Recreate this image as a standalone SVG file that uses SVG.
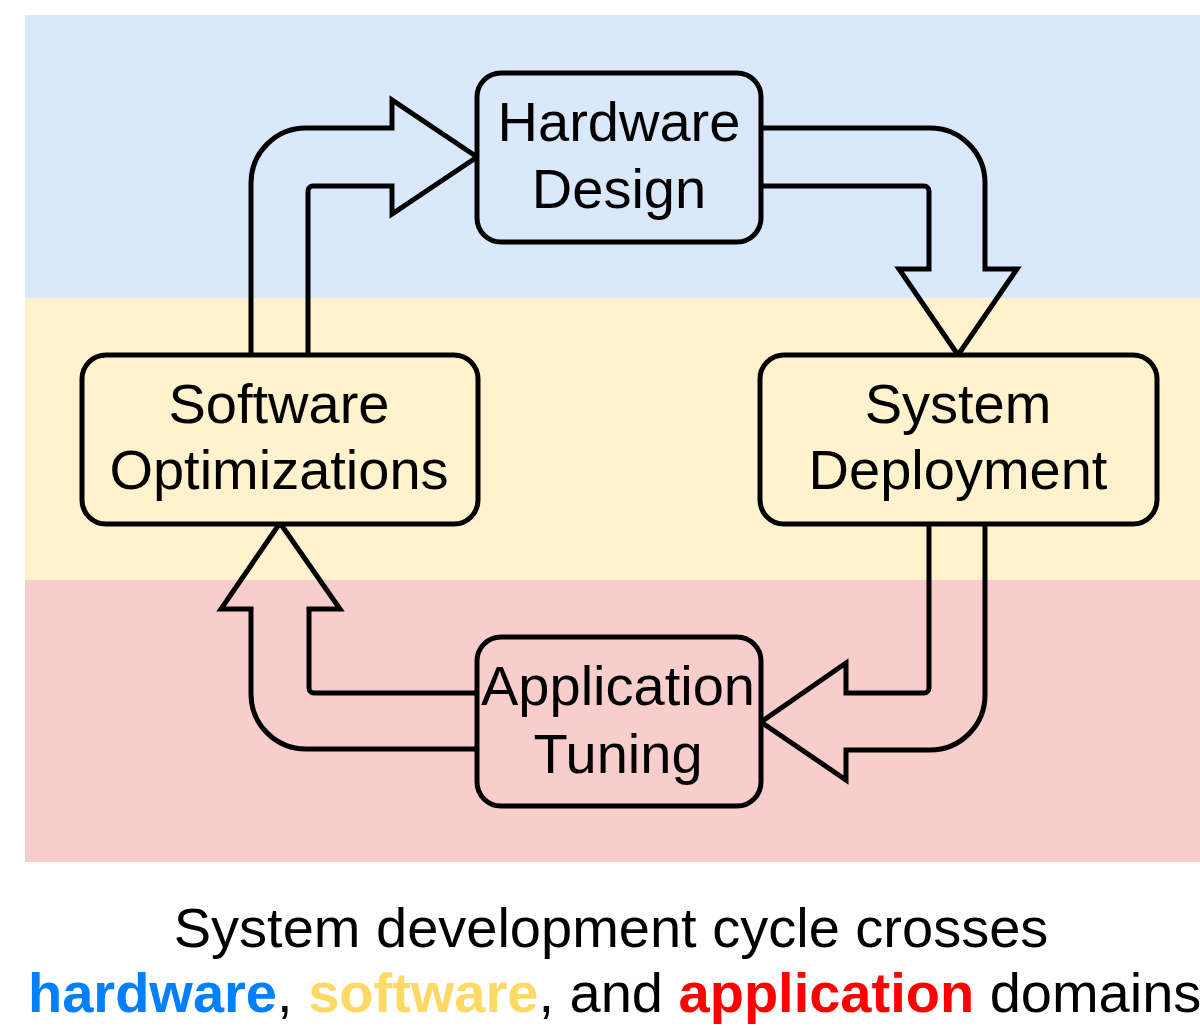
<svg xmlns="http://www.w3.org/2000/svg" width="1200" height="1028" viewBox="0 0 1200 1028">
  <style>
    .label { font-family: "Liberation Sans", Arial, Helvetica, sans-serif; font-size: 56px; fill: #000; text-anchor: middle; }
    .box { stroke: #000; stroke-width: 5; }
    .flex { fill: none; stroke: #000; stroke-width: 5; stroke-linejoin: miter; stroke-miterlimit: 10; }
    .caption { font-family: "Liberation Sans", Arial, Helvetica, sans-serif; font-size: 56px; fill: #000; }
    .b { font-weight: bold; }
  </style>

  <rect width="1200" height="1028" fill="#ffffff"/>

  <!-- domain bands -->
  <g id="bands">
    <rect x="25" y="15" width="1175" height="283" fill="#dae8fc"/>
    <rect x="25" y="298" width="1175" height="282" fill="#fff2cc"/>
    <rect x="25" y="580" width="1175" height="282" fill="#f8cecc"/>
  </g>

  <!-- wide flex arrows between the stages -->
  <g id="connectors">
    <!-- Software Optimizations -> Hardware Design -->
    <path class="flex" d="M251,354 L251,183 A55,55 0 0 1 306,128 L392,128 L392,100 L477,157 L392,214 L392,186 L313,186 A5,5 0 0 0 308,191 L308,354"/>
    <!-- Hardware Design -> System Deployment -->
    <path class="flex" d="M761,128 L930,128 A55,55 0 0 1 985,183 L985,269 L1017,269 L958,355 L899,269 L929,269 L929,191 A5,5 0 0 0 924,186 L761,186"/>
    <!-- System Deployment -> Application Tuning -->
    <path class="flex" d="M985,524 L985,695 A55,55 0 0 1 930,750 L846,750 L846,780 L761,722 L846,663 L846,693 L924,693 A5,5 0 0 0 929,688 L929,524"/>
    <!-- Application Tuning -> Software Optimizations -->
    <path class="flex" d="M477,749 L306,749 A55,55 0 0 1 251,694 L251,609 L221,609 L280,523 L340,609 L309,609 L309,688 A5,5 0 0 0 314,693 L477,693"/>
  </g>

  <!-- stages -->
  <g id="hardware-design">
    <rect class="box" x="477" y="73" width="284" height="169" rx="24" fill="#dae8fc"/>
    <text class="label" x="619" y="141">Hardware</text>
    <text class="label" x="619" y="208">Design</text>
  </g>
  <g id="software-optimizations">
    <rect class="box" x="82" y="355" width="396" height="169" rx="24" fill="#fff2cc"/>
    <text class="label" x="279" y="423">Software</text>
    <text class="label" x="279" y="489">Optimizations</text>
  </g>
  <g id="system-deployment">
    <rect class="box" x="760" y="355" width="397" height="169" rx="24" fill="#fff2cc"/>
    <text class="label" x="958" y="423">System</text>
    <text class="label" x="958" y="489">Deployment</text>
  </g>
  <g id="application-tuning">
    <rect class="box" x="477" y="637" width="284" height="169" rx="24" fill="#f8cecc"/>
    <text class="label" x="618" y="705">Application</text>
    <text class="label" x="618" y="773">Tuning</text>
  </g>

  <!-- caption -->
  <g id="caption">
    <text class="caption" x="611" y="947" text-anchor="middle">System development cycle crosses</text>
    <text class="caption" x="28" y="1012"><tspan class="b" fill="#007fff">hardware</tspan>, <tspan class="b" fill="#ffd966">software</tspan>, and <tspan class="b" fill="#ff0000">application</tspan> domains</text>
  </g>
</svg>
